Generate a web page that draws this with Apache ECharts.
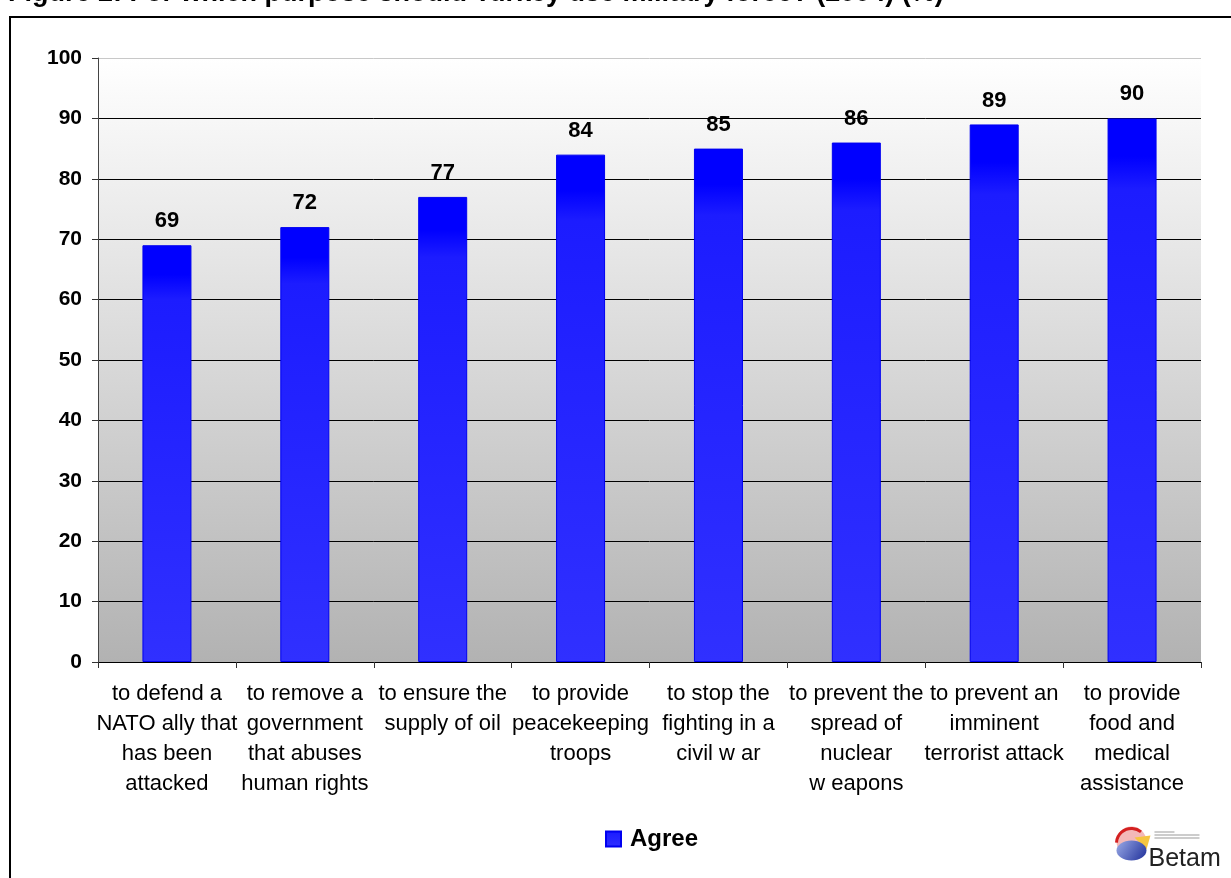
<!DOCTYPE html>
<html>
<head>
<meta charset="utf-8">
<script src="https://cdn.jsdelivr.net/npm/echarts@6/dist/echarts.min.js"></script>
<style>
  html, body { margin: 0; padding: 0; background: #fff; }
  #chart { width: 1231px; height: 878px; }
</style>
</head>
<body>
<div id="chart"></div>
<script>
// Survey: purposes for which Turkey should use military force (2004), % agree
const titleText = 'Figure 2: For which purpose should Turkey use military force? (2004) (%)';
const categories = [
  'to defend a\nNATO ally that\nhas been\nattacked',
  'to remove a\ngovernment\nthat abuses\nhuman rights',
  'to ensure the\nsupply of oil',
  'to provide\npeacekeeping\ntroops',
  'to stop the\nfighting in a\ncivil w ar',
  'to prevent the\nspread of\nnuclear\nw eapons',
  'to prevent an\nimminent\nterrorist attack',
  'to provide\nfood and\nmedical\nassistance'
];
const agreeValues = [69, 72, 77, 84, 85, 86, 89, 90];
const seriesName = 'Agree';
const yTicks = { min: 0, max: 100, interval: 10 };

const FONT = 'Liberation Sans, Arial, sans-serif';

const barFill = new echarts.graphic.LinearGradient(0, 0, 0, 1, [
  { offset: 0, color: '#0000ff' },
  { offset: 0.07, color: '#0000ff' },
  { offset: 0.13, color: '#1c1cff' },
  { offset: 1, color: '#3030ff' }
]);

const plotFill = new echarts.graphic.LinearGradient(0, 0, 0, 1, [
  { offset: 0, color: '#ffffff' },
  { offset: 1, color: '#b2b2b2' }
]);

// grid line colours: black everywhere except the light top line at 100
const splitColors = [];
for (let v = yTicks.min; v <= yTicks.max; v += yTicks.interval) {
  splitColors.push(v === yTicks.max ? '#c8c8c8' : '#000000');
}

const chart = echarts.init(document.getElementById('chart'), null, { renderer: 'canvas' });

chart.setOption({
  backgroundColor: '#ffffff',
  animation: false,
  textStyle: { fontFamily: FONT },
  grid: {
    left: 98, right: 30, top: 58, bottom: 216,
    show: true, backgroundColor: plotFill, borderWidth: 0
  },
  legend: {
    data: [seriesName],
    bottom: 22,
    left: 600,
    itemWidth: 15, itemHeight: 15, itemGap: 10,
    icon: 'rect',
    textStyle: { fontFamily: FONT, fontSize: 24, fontWeight: 'bold', color: '#000', padding: [0, 0, 0, 4] }
  },
  xAxis: {
    type: 'category',
    data: categories,
    axisLine: { show: true, lineStyle: { color: '#000', width: 1 } },
    axisTick: { show: true, length: 6, lineStyle: { color: '#333' } },
    axisLabel: {
      interval: 0, margin: 17, fontSize: 22, lineHeight: 30,
      color: '#000', fontFamily: FONT, align: 'center'
    },
    splitLine: { show: false }
  },
  yAxis: {
    type: 'value',
    min: yTicks.min, max: yTicks.max, interval: yTicks.interval,
    axisLine: { show: true, lineStyle: { color: '#444', width: 1 } },
    axisTick: { show: true, length: 6, lineStyle: { color: '#333' } },
    axisLabel: { margin: 16, fontSize: 21, fontWeight: 'bold', color: '#000', fontFamily: FONT },
    splitLine: { show: true, lineStyle: { color: splitColors, width: 1 } }
  },
  series: [{
    name: seriesName,
    type: 'bar',
    data: agreeValues,
    barWidth: 49,
    itemStyle: { color: barFill, borderColor: '#0000f0', borderWidth: 1 },
    label: {
      show: true, position: 'top', distance: 13,
      fontSize: 22, fontWeight: 'bold', color: '#000', fontFamily: FONT
    }
  }],
  graphic: [
    // outer frame
    {
      type: 'rect', silent: true, z: 100,
      shape: { x: 10, y: 17, width: 1250, height: 900 },
      style: { fill: 'none', stroke: '#000', lineWidth: 2 }
    },
    // figure caption, running off the top edge
    {
      type: 'text', silent: true, z: 100, left: 8, top: -20,
      style: { text: titleText, font: 'bold 27px ' + FONT, fill: '#000' }
    },
    // Betam logo
    {
      type: 'group', left: 1114, top: 826, silent: true, z: 100,
      children: [
        { type: 'circle', shape: { cx: 19, cy: 16, r: 15 }, style: { fill: '#f3b8b8' } },
        { type: 'arc', shape: { cx: 19, cy: 18, r: 15, startAngle: Math.PI * 1.02, endAngle: Math.PI * 1.72 },
          style: { stroke: '#d42020', lineWidth: 3, fill: 'none' } },
        { type: 'polygon', shape: { points: [[22, 12], [38, 10], [34, 24]] }, style: { fill: '#f5c542' } },
        { type: 'ellipse', shape: { cx: 19, cy: 25, rx: 15, ry: 10 },
          style: { fill: new echarts.graphic.LinearGradient(0, 0, 1, 1, [
            { offset: 0, color: '#9aaae6' }, { offset: 1, color: '#1f2f9a' }]) } },
        { type: 'rect', shape: { x: 42, y: 6, width: 20, height: 1 }, style: { fill: '#9a9a9a' } },
        { type: 'rect', shape: { x: 42, y: 9, width: 45, height: 1 }, style: { fill: '#9a9a9a' } },
        { type: 'rect', shape: { x: 42, y: 12, width: 45, height: 1 }, style: { fill: '#9a9a9a' } },
        { type: 'text', x: 36, y: 21,
          style: { text: 'Betam', font: '25px "Liberation Sans Narrow", ' + FONT, fill: '#222' } }
      ]
    }
  ]
});
</script>
</body>
</html>
